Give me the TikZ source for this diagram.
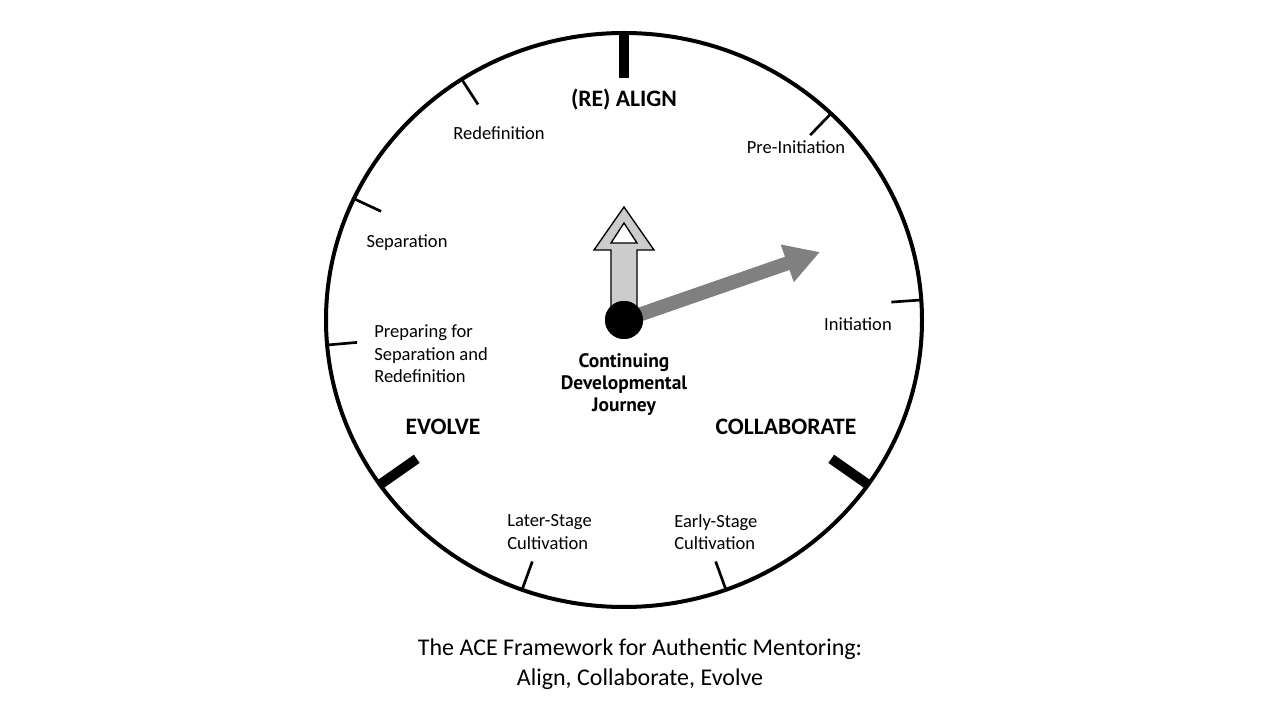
\documentclass[tikz,border=0pt]{standalone}
\usepackage{fontspec}
\setmainfont{Carlito}
\newfontfamily\hubfont{PT Sans}
\usetikzlibrary{arrows.meta,positioning,calc}
\tikzstyle{stagelabel} = [font=\fontsize{13.9}{16.9}\selectfont,inner sep=0pt]
\tikzstyle{phaselabel} = [font=\fontsize{17.7}{21}\selectfont\bfseries,inner sep=0pt]

\begin{document}
\begin{tikzpicture}[x=0.75pt,y=0.75pt,
    thintick/.style={line width=2pt},
    thicktick/.style={line width=7.5pt},
    hubnode/.style={circle,fill=black,minimum size=28.5pt,inner sep=0pt}]
        \useasboundingbox (-624,-400) rectangle (656,320);
        % dial face
        \draw[line width=3pt] (0,0) ellipse (298 and 287);
        % ticks: \foreach angle in {...}
        \foreach \t in {46,4,290,250,185,155,123}
            \draw[thintick] (\t:298 and 287) -- (\t:268 and 257);
        \foreach \t in {90,215,325}
            \draw[thicktick] (\t:298 and 287) -- (\t:253 and 242);

        % phases
        \node[phaselabel] (align) at (0,220) {(RE) ALIGN};
        \node[phaselabel] (evolve) at (-181,-107) {EVOLVE};
        \node[phaselabel] (collab) at (162,-107) {COLLABORATE};

        % stages
        \node[stagelabel] (predef) at (-125,187) {Redefinition};
        \node[stagelabel] (preinit) at (172,173) {Pre-Initiation};
        \node[stagelabel] (sep) at (-217,77) {Separation};
        \node[stagelabel] (init) at (234,-4) {Initiation};
        \node[stagelabel,anchor=west,align=left] (prep) at (-250,-34) {Preparing for\\Separation and\\Redefinition};
        \node[stagelabel,anchor=west,align=left] (later) at (-117,-212) {Later-Stage\\Cultivation};
        \node[stagelabel,anchor=west,align=left] (early) at (50,-212) {Early-Stage\\Cultivation};

        % hands of the dial
        \coordinate (tip) at (196,68);
        \draw[line width=1pt,fill=black!20] (-13,0) -- (-13,70) -- (-30,70) -- (0,113)
            -- (30,70) -- (13,70) -- (13,0) -- cycle;
        \draw[line width=1pt,fill=white] (-13,77) -- (0,97) -- (13,77) -- cycle;
        \node[hubnode] (hub) at (0,0) {};
        \draw[line width=10.5pt,black!50,-{Triangle[length=26pt,width=28pt]}] (hub.center) -- (tip);
        \node[hubnode] at (hub) {};

        % centre text
        \node[font=\hubfont\bfseries\fontsize{14.6}{16.5}\selectfont,align=center,inner sep=0pt] (journey) at (0,-65) {Continuing\\Developmental\\Journey};

        % caption
        \node[font=\fontsize{18}{22.5}\selectfont,align=center] (caption) at (16,-344) {The ACE Framework for Authentic Mentoring:\\Align, Collaborate, Evolve};
    \end{tikzpicture}
\end{document}
